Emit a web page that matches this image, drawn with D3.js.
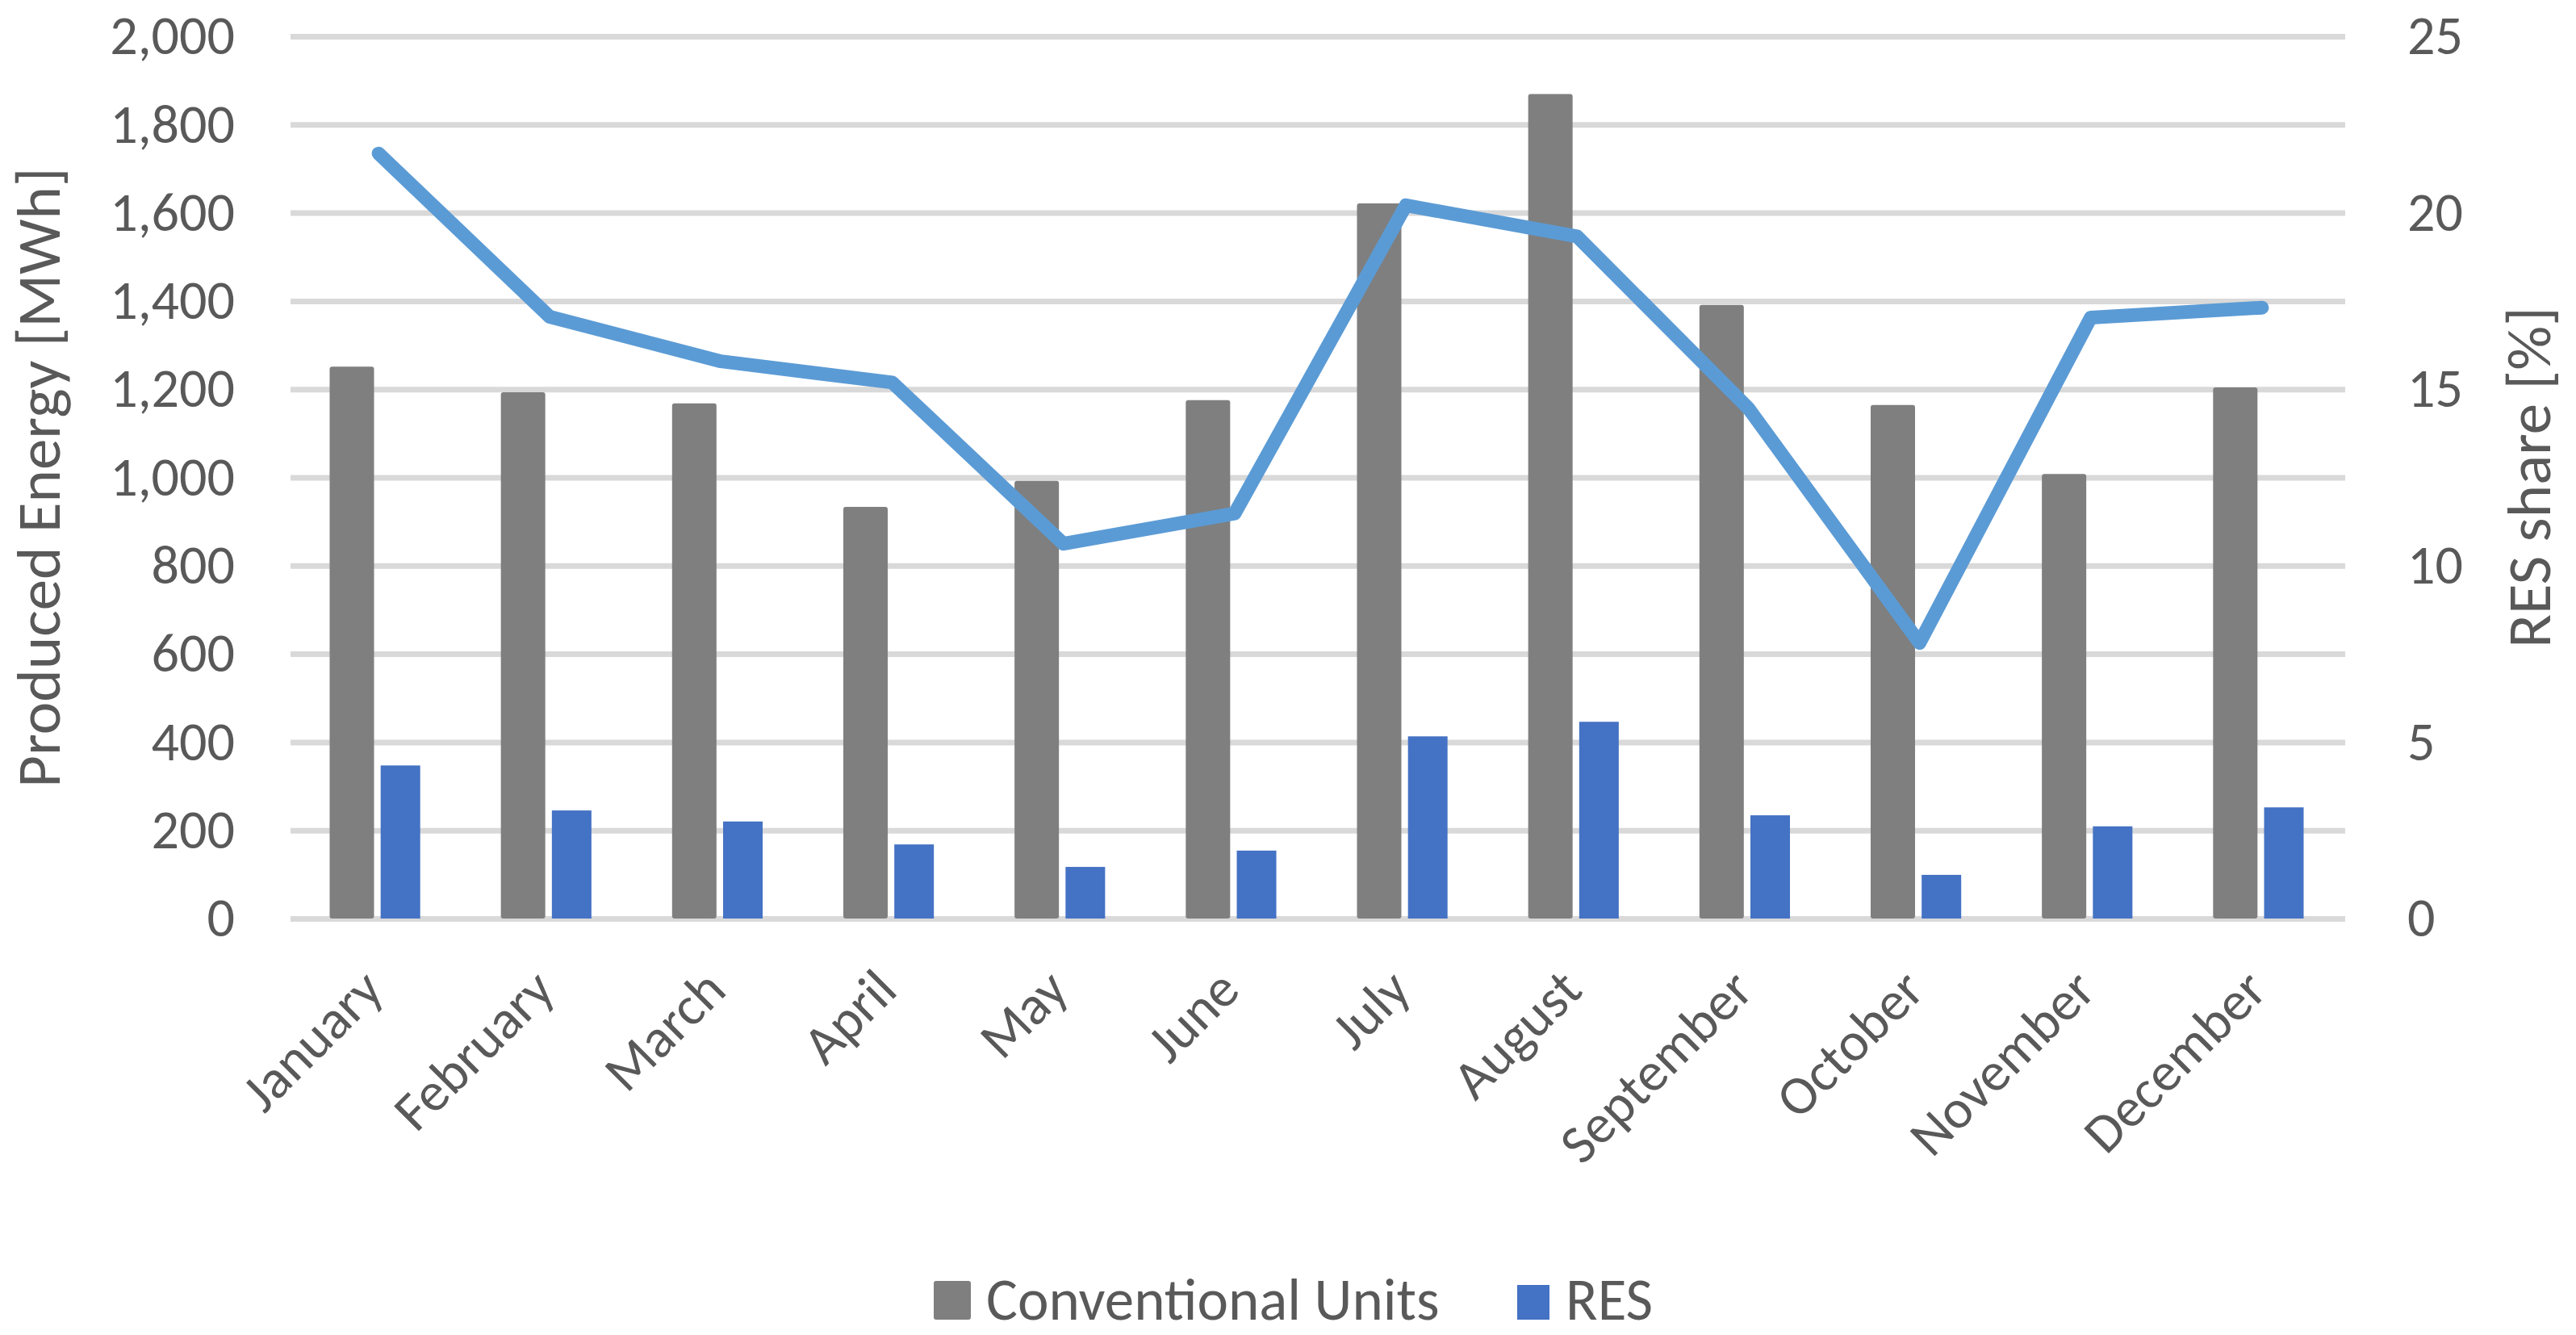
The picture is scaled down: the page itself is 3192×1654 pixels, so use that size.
<!DOCTYPE html>
<html>
<head>
<meta charset="utf-8">
<script src="https://cdn.jsdelivr.net/npm/d3@7"></script>
<style>
  html, body { margin: 0; padding: 0; background: #ffffff; }
  svg { display: block; }
  text { font-family: Carlito, Calibri, Lato, sans-serif; fill: #595959; }
</style>
</head>
<body>
<svg id="chart" width="3192" height="1654"></svg>
<script>
// ---- data ----
const months = ["January", "February", "March", "April", "May", "June",
                "July", "August", "September", "October", "November", "December"];
const conventional = [1251, 1193, 1168, 933, 992, 1175, 1621, 1869, 1391, 1164, 1008, 1204];
const res = [347, 245, 220, 168, 117, 154, 413, 446, 234, 99, 209, 252];
const resShare = [21.68, 17.05, 15.79, 15.19, 10.62, 11.48, 20.21, 19.33, 14.46, 7.81, 17.03, 17.31];
const leftTicks = [0, 200, 400, 600, 800, 1000, 1200, 1400, 1600, 1800, 2000];
const rightTicks = [0, 5, 10, 15, 20, 25];
const seriesNames = ["Conventional Units", "RES"];
const seriesColors = ["#7f7f7f", "#4472c4"];
const lineColor = "#5b9bd5";
const leftTitle = "Produced Energy [MWh]";
const rightTitle = "RES share [%]";

// ---- layout ----
const svg = d3.select("#chart");
const plot = { left: 360, right: 2906, top: 45, bottom: 1138 };
const tickFont = 68, titleFont = 77, catFont = 68, legendFont = 73;

const x = d3.scaleBand().domain(months).range([plot.left, plot.right]).padding(0);
const xs = d3.scaleBand().domain(seriesNames).range([-54.6, 54.6]).paddingInner(0.186).paddingOuter(0);
const yL = d3.scaleLinear().domain([0, 2000]).range([plot.bottom, plot.top]);
const yR = d3.scaleLinear().domain([0, 25]).range([plot.bottom, plot.top]);

// gridlines + left axis
const gL = svg.append("g").attr("transform", `translate(${plot.left},0)`)
  .call(d3.axisLeft(yL).tickValues(leftTicks).tickSize(-(plot.right - plot.left)).tickPadding(69)
        .tickFormat(d3.format(",")));
gL.select(".domain").remove();
gL.selectAll(".tick line").attr("stroke", "#d9d9d9").attr("stroke-width", 7);
gL.selectAll(".tick text").attr("font-size", tickFont).attr("fill", "#595959")
  .attr("font-family", "Carlito, Calibri, Lato, sans-serif");

// right axis
const gR = svg.append("g").attr("transform", `translate(${plot.right},0)`)
  .call(d3.axisRight(yR).tickValues(rightTicks).tickSize(0).tickPadding(77));
gR.select(".domain").remove();
gR.selectAll(".tick text").attr("font-size", tickFont).attr("fill", "#595959")
  .attr("font-family", "Carlito, Calibri, Lato, sans-serif");

// bars
const bars = svg.append("g");
const sw = 6;
months.forEach((m, i) => {
  const cx = x(m) + x.bandwidth() / 2;
  const v0 = conventional[i];
  bars.append("rect")
    .attr("x", cx + xs(seriesNames[0]) - 3 + sw / 2)
    .attr("width", xs.bandwidth() + 6 - sw)
    .attr("y", yL(v0) + sw / 2)
    .attr("height", yL(0) - yL(v0) - sw)
    .attr("fill", seriesColors[0]).attr("stroke", seriesColors[0])
    .attr("stroke-width", sw).attr("stroke-linejoin", "round");
  const v1 = res[i];
  bars.append("rect")
    .attr("x", cx + xs(seriesNames[1]))
    .attr("width", xs.bandwidth())
    .attr("y", yL(v1))
    .attr("height", yL(0) - yL(v1))
    .attr("fill", seriesColors[1]);
});

// line
const line = d3.line()
  .x((d, i) => x(months[i]) + x.bandwidth() / 2 + 3)
  .y(d => yR(d));
svg.append("path").datum(resShare)
  .attr("d", line)
  .attr("fill", "none").attr("stroke", lineColor).attr("stroke-width", 17)
  .attr("stroke-linecap", "round").attr("stroke-linejoin", "round");

// category labels
const gx = svg.append("g");
months.forEach(m => {
  const cx = x(m) + x.bandwidth() / 2;
  gx.append("text")
    .attr("transform", `translate(${cx + 12},${plot.bottom + 92}) rotate(-45)`)
    .attr("text-anchor", "end")
    .attr("font-size", catFont)
    .text(m);
});

// axis titles
svg.append("text")
  .attr("transform", `translate(74,${(plot.top + plot.bottom) / 2}) rotate(-90)`)
  .attr("text-anchor", "middle").attr("font-size", titleFont).text(leftTitle);
svg.append("text")
  .attr("transform", `translate(3160,${(plot.top + plot.bottom) / 2}) rotate(-90)`)
  .attr("text-anchor", "middle").attr("font-size", titleFont).text(rightTitle);

// legend
const leg = svg.append("g").attr("transform", "translate(1157,1635)");
const legendX = [0, 723];
seriesNames.forEach((name, i) => {
  const g = leg.append("g").attr("transform", `translate(${legendX[i]},0)`);
  if (i === 0) {
    g.append("rect").attr("x", 3).attr("y", -45).attr("width", 40).attr("height", 42)
      .attr("fill", seriesColors[i]).attr("stroke", seriesColors[i])
      .attr("stroke-width", 6).attr("stroke-linejoin", "round");
  } else {
    g.append("rect").attr("x", 0).attr("y", -43).attr("width", 40).attr("height", 43)
      .attr("fill", seriesColors[i]);
  }
  g.append("text").attr("x", i === 0 ? 65 : 60).attr("y", 0)
    .attr("font-size", legendFont).text(name);
});
</script>
</body>
</html>
